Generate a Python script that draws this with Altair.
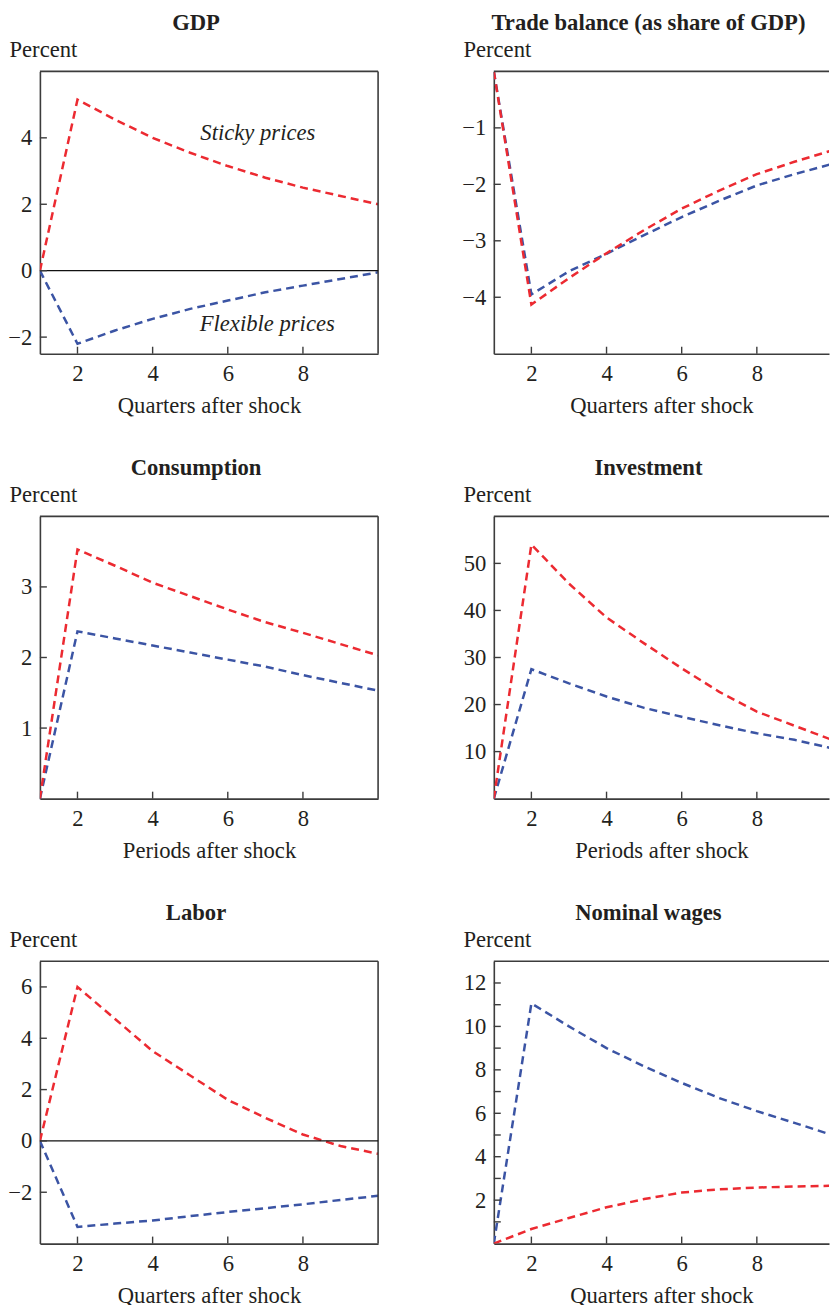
import altair as alt
import pandas as pd

FONT = "Liberation Serif"
FS = 22.7
RED = "#ec2a31"
BLUE = "#3b54a4"
INK = "#231f20"
FRAME = "#3c3c3c"

quarters = [1, 2, 3, 4, 5, 6, 7, 8, 9, 10]
x_ticks = [2, 4, 6, 8]

gdp_sticky = [0, 5.15, 4.55, 4.0, 3.55, 3.15, 2.8, 2.5, 2.25, 2.0]
gdp_flex = [0, -2.2, -1.8, -1.45, -1.15, -0.9, -0.65, -0.45, -0.25, -0.05]
trade_sticky = [0, -4.13, -3.66, -3.22, -2.81, -2.43, -2.11, -1.82, -1.6, -1.4]
trade_flex = [0, -3.95, -3.54, -3.23, -2.9, -2.58, -2.29, -2.02, -1.82, -1.64]
cons_sticky = [0, 3.53, 3.3, 3.06, 2.87, 2.68, 2.5, 2.35, 2.19, 2.03]
cons_flex = [0, 2.37, 2.27, 2.17, 2.07, 1.97, 1.87, 1.75, 1.64, 1.53]
inv_sticky = [0, 54.0, 45.7, 38.5, 33.0, 27.7, 22.7, 18.5, 15.5, 12.5]
inv_flex = [0, 27.5, 24.5, 21.7, 19.3, 17.4, 15.6, 13.9, 12.5, 10.7]
labor_sticky = [0, 6.0, 4.75, 3.5, 2.55, 1.6, 0.9, 0.25, -0.2, -0.5]
labor_flex = [0, -3.35, -3.22, -3.1, -2.93, -2.77, -2.62, -2.47, -2.3, -2.14]
wage_sticky = [0, 0.67, 1.18, 1.67, 2.05, 2.35, 2.5, 2.58, 2.63, 2.66]
wage_flex = [0, 11.06, 10.0, 9.0, 8.16, 7.4, 6.7, 6.1, 5.56, 5.0]

note_text = ["Sticky prices", "Flexible prices"]
note_q = [6.8, 7.05]
note_v = [3.92, -1.83]

H = 283
W_LEFT = 339
W_RIGHT = 336
PX_PER_Q = W_LEFT / 9.0


def panel(title, xtitle, sticky, flex, ydomain, yticks, side,
          zero=False, even_only=False, notes=False):
    width = W_LEFT if side == "left" else W_RIGHT
    xmax = 1 + width / PX_PER_Q
    xs = alt.Scale(domain=[1, xmax], nice=False, zero=False)
    ys = alt.Scale(domain=ydomain, nice=False, zero=False)
    xaxis = alt.Axis(values=x_ticks, title=xtitle, ticks=False, grid=False,
                     labelPadding=9, titlePadding=9, format="d",
                     labelOverlap=False)
    label_expr = "datum.value % 2 == 0 ? datum.label : ''" if even_only else "datum.label"
    yaxis = alt.Axis(values=yticks, title="Percent", ticks=False, grid=False,
                     labelPadding=8, labelExpr=label_expr, format="d",
                     labelOverlap=False, titleAngle=0, titleAlign="left",
                     titleBaseline="alphabetic", titleX=-31, titleY=-15)

    def X(field):
        return alt.X(field, scale=xs, axis=xaxis)

    def Y(field):
        return alt.Y(field, scale=ys, axis=yaxis)

    base = alt.Chart(pd.DataFrame({"q": quarters, "sticky": sticky, "flex": flex}))
    layers = []
    layers.append(base.mark_line(color=BLUE, strokeDash=[8, 5], strokeWidth=2.5,
                                 clip=True).encode(x=X("q:Q"), y=Y("flex:Q")))
    layers.append(base.mark_line(color=RED, strokeDash=[8, 5], strokeWidth=2.5,
                                 clip=True).encode(x=X("q:Q"), y=Y("sticky:Q")))
    one = pd.DataFrame({"k": [0]})
    layers.append(alt.Chart(one).mark_rule(color=FRAME, strokeWidth=1.6).encode(
        x=alt.value(0), x2=alt.value(width), y=alt.value(0)))
    if side == "left":
        layers.append(alt.Chart(one).mark_rule(color=FRAME, strokeWidth=1.6).encode(
            x=alt.value(width), y=alt.value(0), y2=alt.value(H)))
    if zero:
        layers.append(alt.Chart(pd.DataFrame({"v": [0]})).mark_rule(
            color="#111111", strokeWidth=1.3).encode(
            y=Y("v:Q"), x=alt.value(0), x2=alt.value(width)))
    layers.append(alt.Chart(pd.DataFrame({"v": yticks})).mark_rule(
        color=FRAME, strokeWidth=1.4).encode(
        y=Y("v:Q"), x=alt.value(0), x2=alt.value(7)))
    layers.append(alt.Chart(pd.DataFrame({"q": x_ticks})).mark_rule(
        color=FRAME, strokeWidth=1.4).encode(
        x=X("q:Q"), y=alt.value(H), y2=alt.value(H - 7)))
    if notes:
        ndf = pd.DataFrame({"q": note_q, "v": note_v, "t": note_text})
        layers.append(alt.Chart(ndf).mark_text(
            font=FONT, fontSize=FS, fontStyle="italic", color=INK,
            align="center", baseline="alphabetic").encode(
            x=X("q:Q"), y=Y("v:Q"), text="t:N"))
    return alt.layer(*layers).properties(
        width=width, height=H,
        title=alt.TitleParams(title, anchor="middle", frame="group", dx=-13))


gdp = panel("GDP", "Quarters after shock", gdp_sticky, gdp_flex, [-2.5, 6],
            [-2, 0, 2, 4], "left", zero=True, notes=True)
trade = panel("Trade balance (as share of GDP)", "Quarters after shock", trade_sticky,
              trade_flex, [-5, 0], [-4, -3, -2, -1], "right")
cons = panel("Consumption", "Periods after shock", cons_sticky, cons_flex, [0, 4],
             [1, 2, 3], "left")
inv = panel("Investment", "Periods after shock", inv_sticky, inv_flex, [0, 60],
            [10, 20, 30, 40, 50], "right")
labor = panel("Labor", "Quarters after shock", labor_sticky, labor_flex, [-4, 7],
              [-2, 0, 2, 4, 6], "left", zero=True)
wage = panel("Nominal wages", "Quarters after shock", wage_sticky, wage_flex, [0, 13],
             list(range(1, 13)), "right", even_only=True)

chart = alt.concat(gdp, trade, cons, inv, labor, wage, columns=2,
                   spacing={"row": 163, "column": 116}, bounds="flush").properties(
    padding={"left": 7, "top": 10, "right": 0, "bottom": 0},
    background="white",
).configure_view(strokeWidth=0).configure_axis(
    domainColor=FRAME, domainWidth=1.6,
    labelFont=FONT, labelFontSize=FS, labelColor=INK,
    titleFont=FONT, titleFontSize=FS, titleFontWeight="normal", titleColor=INK,
).configure_title(
    font=FONT, fontSize=FS, fontWeight="bold", color=INK,
)

chart.save("out.html", embed_options={"renderer": "svg", "actions": False})
